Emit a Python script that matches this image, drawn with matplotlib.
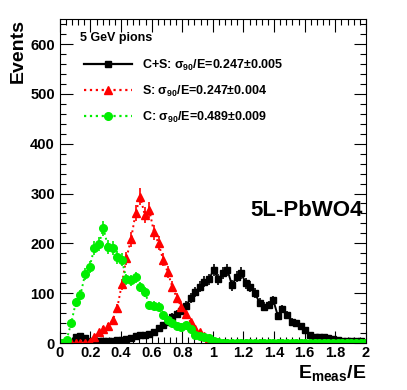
#!/usr/bin/env python3
# -*- coding: utf-8 -*-
"""
5 GeV pion response: C+S, S and C histograms (ROOT-like style)
"""

import numpy as np
import matplotlib
matplotlib.use("Agg")
import matplotlib.pyplot as plt
from matplotlib.lines import Line2D
from matplotlib.ticker import MultipleLocator

# bin width 0.03 over 0..2
bin_width = 0.03
n_bins = 67

# C+S (black squares)
cs_counts = [0, 0, 3, 12, 14, 10, 4, 4, 5, 4,
             5, 5, 6, 7, 9, 10, 14, 16, 16, 18,
             23, 30, 36, 42, 53, 58, 64, 75, 90, 103,
             113, 123, 128, 147, 128, 140, 147, 116, 133, 140,
             120, 113, 100, 81, 73, 76, 86, 54, 68, 56,
             43, 40, 34, 26, 16, 13, 13, 12, 10, 9,
             6, 4, 5, 5, 5, 4, 0]

# S (red triangles)
s_counts = [0, 0, 0, 0, 0, 1, 3, 12, 22, 28,
            35, 46, 70, 118, 170, 208, 260, 294, 257, 267,
            222, 200, 167, 142, 113, 90, 72, 58, 42, 28,
            22, 14, 10, 3, 0, 0, 0, 0, 0, 0,
            0, 0, 0, 0, 0, 0, 0, 0, 0, 0,
            0, 0, 0, 0, 0, 0, 0, 0, 0, 0,
            0, 0, 0, 0, 0, 0, 0]

# C (green circles)
c_counts = [0, 7, 41, 82, 97, 138, 153, 190, 199, 230,
            193, 190, 172, 167, 128, 126, 132, 112, 103, 76,
            75, 73, 56, 46, 40, 34, 33, 36, 28, 16,
            14, 12, 11, 5, 3, 0, 0, 0, 0, 0,
            0, 0, 0, 0, 0, 0, 0, 0, 0, 0,
            0, 0, 0, 0, 0, 0, 0, 0, 0, 0,
            0, 0, 0, 0, 0, 0, 0]

labels = [r"C+S: $\sigma_{90}$/E=0.247$\pm$0.005",
          r"S: $\sigma_{90}$/E=0.247$\pm$0.004",
          r"C: $\sigma_{90}$/E=0.489$\pm$0.009"]

plt.rcParams['font.family'] = ['Liberation Sans', 'DejaVu Sans']
plt.rcParams['font.weight'] = 'bold'
plt.rcParams['mathtext.fontset'] = 'custom'
plt.rcParams['mathtext.rm'] = 'Liberation Sans'
plt.rcParams['mathtext.it'] = 'Liberation Sans'
plt.rcParams['mathtext.bf'] = 'Liberation Sans:bold'

centers = bin_width * (np.arange(n_bins) + 0.5)

fig = plt.figure(figsize=(4.07, 3.90), dpi=100)
ax = fig.add_axes([0.147, 0.1205, 0.752, 0.8305])

styles = [
    (cs_counts, 'black', 's', '-', 5.0),
    (s_counts, 'red', '^', ':', 5.5),
    (c_counts, '#00ee00', 'o', ':', 5.5),
]

handles = []
for counts, color, marker, ls, ms in styles:
    y = np.array(counts, dtype=float)
    err = np.sqrt(y)
    ax.errorbar(centers, y, yerr=err, color=color, marker=marker, ms=ms,
                ls=ls, lw=1.4, elinewidth=1.2, capsize=0)
    handles.append(Line2D([], [], color=color, marker=marker, ms=ms,
                          ls=ls, lw=1.6))

ax.set_xlim(0, 2)
ax.set_ylim(0, 650)

ax.xaxis.set_major_locator(MultipleLocator(0.2))
ax.xaxis.set_minor_locator(MultipleLocator(0.04))
ax.yaxis.set_major_locator(MultipleLocator(100))
ax.yaxis.set_minor_locator(MultipleLocator(20))
ax.xaxis.set_major_formatter(plt.FuncFormatter(lambda v, p: f"{v:g}"))

ax.tick_params(which='both', direction='in', top=True, right=True,
               labelsize=10.5, width=0.8)
ax.tick_params(which='major', length=9)
ax.tick_params(which='minor', length=4.5)
ax.tick_params(axis='x', pad=2)
for lbl in ax.get_xticklabels() + ax.get_yticklabels():
    lbl.set_fontweight('bold')

ax.text(-0.137, 1.0, "Events", transform=ax.transAxes, rotation=90,
        ha='center', va='top', fontsize=14, fontweight='bold')
ax.text(1.0, -0.062, r"E$_{\mathbf{meas}}$/E", transform=ax.transAxes,
        ha='right', va='top', fontsize=14, fontweight='bold')

ax.text(0.065, 0.941, "5 GeV pions", transform=ax.transAxes,
        ha='left', va='center', fontsize=9, fontweight='bold')
ax.text(0.99, 0.41, "5L-PbWO4", transform=ax.transAxes,
        ha='right', va='center', fontsize=16, fontweight='bold')

ax.legend(handles, labels, loc='upper left', bbox_to_anchor=(0.063, 0.896),
          frameon=False, fontsize=9, handlelength=3.8, handletextpad=0.85,
          labelspacing=0.86, borderaxespad=0)

fig.savefig("out.png", dpi=100)
